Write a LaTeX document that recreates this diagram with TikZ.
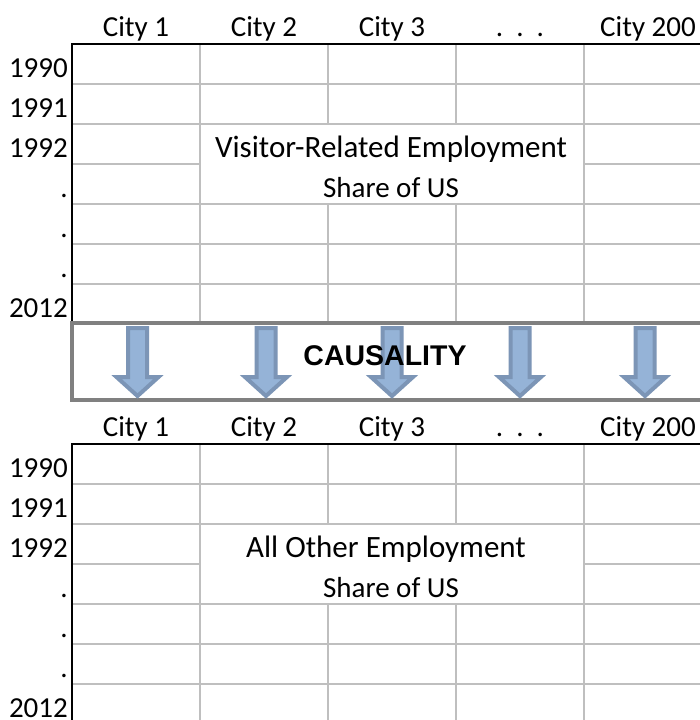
\documentclass[tikz,border=0pt]{standalone}
\usepackage{fontspec}
\setmainfont{Carlito}
\newfontfamily\causalityfont{Liberation Sans}
\usepackage{tikz}
\usetikzlibrary{arrows.meta}
\definecolor{gridgray}{RGB}{191,191,191}
\definecolor{boxgray}{RGB}{128,128,128}
\definecolor{arrowfill}{RGB}{149,179,215}
\definecolor{arrowline}{RGB}{124,149,182}
\tikzset{>=latex}
\tikzset{
  cell/.style = {inner sep = 0pt, font = \fontsize{29}{35}\selectfont},
  titlecell/.style = {inner sep = 0pt, font = \fontsize{31}{37}\selectfont},
  gridline/.style = {gridgray, line width = 2pt},
  tablerule/.style = {black, line width = 2.2pt},
  downarrow/.style = {draw = arrowline, fill = arrowfill, line width = 4pt, line join = miter},
}

\begin{document}
\begin{tikzpicture}[x = 1pt, y = -1pt]
\useasboundingbox (0,0) rectangle (700,720);
\clip (0,0) rectangle (700,720);
\fill[white] (0,0) rectangle (700,720);
% visitor-related table
\begin{scope}
\draw[gridline] (72,84) -- (712,84) (72,124) -- (712,124) (72,164) -- (200,164) (584,164) -- (712,164)
  (72,204) -- (712,204) (72,244) -- (712,244) (72,284) -- (712,284);
\draw[gridline] (200,44) -- (200,324) (584,44) -- (584,324) (328,44) -- (328,124) (328,204) -- (328,324)
  (456,44) -- (456,124) (456,204) -- (456,324);
\draw[tablerule] (712,44) -- (72,44) -- (72,324);
\node[cell, anchor = base] (vcity1) at (136,36) {City 1};
\node[cell, anchor = base] (vcity2) at (264,36) {City 2};
\node[cell, anchor = base] (vcity3) at (392,36) {City 3};
\node[cell, anchor = base] (vdots) at (520,36) {.~~.~~.};
\node[cell, anchor = base] (vcity200) at (648,36) {City 200};
\node[cell, anchor = base east] (v1990) at (68,77) {1990};
\node[cell, anchor = base east] (v1991) at (68,117) {1991};
\node[cell, anchor = base east] (v1992) at (68,157) {1992};
\node[cell, anchor = base east] (vdot1) at (68,197) {.};
\node[cell, anchor = base east] (vdot2) at (68,237) {.};
\node[cell, anchor = base east] (vdot3) at (68,277) {.};
\node[cell, anchor = base east] (v2012) at (68,317) {2012};
\node[titlecell, anchor = base] (vtitle) at (391,157) {Visitor-Related Employment};
\node[cell, anchor = base] (vshare) at (391,197) {Share of US};
\end{scope}
% causality band
\draw[boxgray, line width = 3.5pt] (714,323) -- (72,323) -- (72,400) -- (714,400);
\draw[downarrow, shift = {(137.5,0)}] (-9.5,328) -- (9.5,328) -- (9.5,377) -- (21,377) -- (0,396) -- (-21,377) -- (-9.5,377) -- cycle;
\draw[downarrow, shift = {(266,0)}] (-9.5,328) -- (9.5,328) -- (9.5,377) -- (21,377) -- (0,396) -- (-21,377) -- (-9.5,377) -- cycle;
\draw[downarrow, shift = {(392,0)}] (-9.5,328) -- (9.5,328) -- (9.5,377) -- (21,377) -- (0,396) -- (-21,377) -- (-9.5,377) -- cycle;
\draw[downarrow, shift = {(520,0)}] (-9.5,328) -- (9.5,328) -- (9.5,377) -- (21,377) -- (0,396) -- (-21,377) -- (-9.5,377) -- cycle;
\draw[downarrow, shift = {(645,0)}] (-9.5,328) -- (9.5,328) -- (9.5,377) -- (21,377) -- (0,396) -- (-21,377) -- (-9.5,377) -- cycle;
\node[inner sep = 0pt, anchor = base, font = \causalityfont\bfseries\fontsize{28.5}{34}\selectfont] (causality) at (385,365) {CAUSALITY};
% all other employment table
\begin{scope}[yshift = -400pt]
\draw[gridline] (72,84) -- (712,84) (72,124) -- (712,124) (72,164) -- (200,164) (584,164) -- (712,164)
  (72,204) -- (712,204) (72,244) -- (712,244) (72,284) -- (712,284);
\draw[gridline] (200,44) -- (200,324) (584,44) -- (584,324) (328,44) -- (328,124) (328,204) -- (328,324)
  (456,44) -- (456,124) (456,204) -- (456,324);
\draw[tablerule] (712,44) -- (72,44) -- (72,324);
\node[cell, anchor = base] (ocity1) at (136,36) {City 1};
\node[cell, anchor = base] (ocity2) at (264,36) {City 2};
\node[cell, anchor = base] (ocity3) at (392,36) {City 3};
\node[cell, anchor = base] (odots) at (520,36) {.~~.~~.};
\node[cell, anchor = base] (ocity200) at (648,36) {City 200};
\node[cell, anchor = base east] (o1990) at (68,77) {1990};
\node[cell, anchor = base east] (o1991) at (68,117) {1991};
\node[cell, anchor = base east] (o1992) at (68,157) {1992};
\node[cell, anchor = base east] (odot1) at (68,197) {.};
\node[cell, anchor = base east] (odot2) at (68,237) {.};
\node[cell, anchor = base east] (odot3) at (68,277) {.};
\node[cell, anchor = base east] (o2012) at (68,317) {2012};
\node[titlecell, anchor = base] (otitle) at (386,157) {All Other Employment};
\node[cell, anchor = base] (oshare) at (391,197) {Share of US};
\end{scope}
\end{tikzpicture}
\end{document}
